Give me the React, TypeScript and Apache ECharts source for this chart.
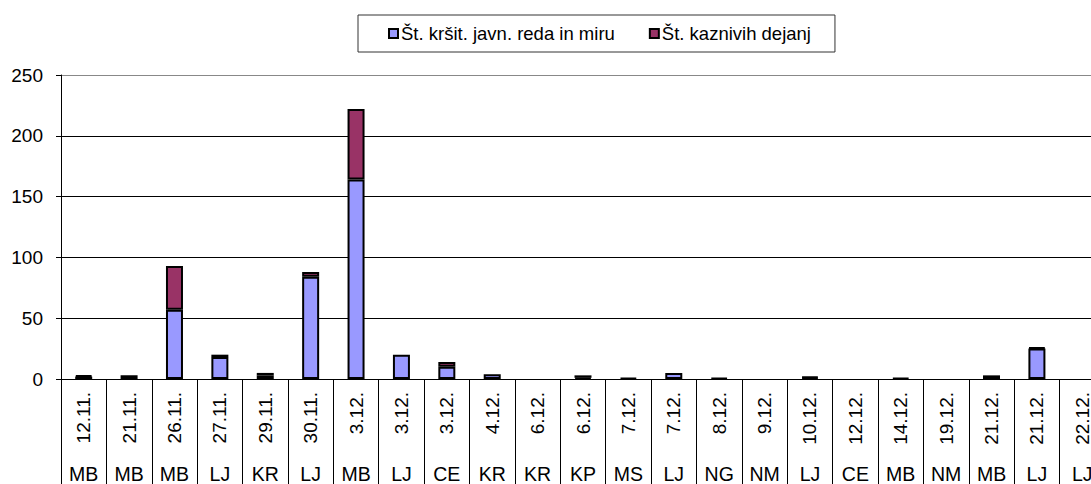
import React, { useEffect, useRef } from "react";
import * as echarts from "echarts";

const dates = ["12.11.", "21.11.", "26.11.", "27.11.", "29.11.", "30.11.", "3.12.", "3.12.", "3.12.", "4.12.", "6.12.", "6.12.", "7.12.", "7.12.", "8.12.", "9.12.", "10.12.", "12.12.", "14.12.", "19.12.", "21.12.", "21.12.", "22.12."];
const cities = ["MB", "MB", "MB", "LJ", "KR", "LJ", "MB", "LJ", "CE", "KR", "KR", "KP", "MS", "LJ", "NG", "NM", "LJ", "CE", "MB", "NM", "MB", "LJ", "LJ"];
const javniRed = [2, 0, 57, 18, 3, 84, 164, 20, 10, 4, 0, 1, 1, 5, 1, 0, 1, 0, 1, 0, 3, 25, 0];
const kaznivaDejanja = [1, 3, 36, 2, 2, 4, 58, 0, 4, 0, 0, 2, 0, 0, 0, 0, 1, 0, 0, 0, 0, 1, 0];
const seriesNames = ["Št. kršit. javn. reda in miru", "Št. kaznivih dejanj"];
const yTicks = { min: 0, max: 250, interval: 50 };

export default function App() {
  const ref = useRef<HTMLDivElement>(null);
  useEffect(() => {
    const chart = echarts.init(ref.current!, null, { renderer: "svg" });
    const font = "Arial, 'Liberation Sans', sans-serif";
    const noZero = (arr: number[]) => arr.map((v) => (v === 0 ? null : v));
    chart.setOption({
      animation: false,
      backgroundColor: "#fff",
      textStyle: { fontFamily: font, color: "#000" },
      legend: {
        left: 358,
        top: 15,
        orient: "horizontal",
        padding: [9, 24, 9, 30],
        itemWidth: 9,
        itemHeight: 9,
        itemGap: 34,
        borderColor: "#333",
        borderWidth: 1,
        icon: "rect",
        textStyle: { fontSize: 18.5, color: "#000", fontFamily: font, padding: [0, 0, 0, -2] },
        data: seriesNames,
      },
      grid: { left: 61, top: 75, width: 1044, bottom: 102, containLabel: false },
      xAxis: [
        {
          type: "category",
          data: dates,
          boundaryGap: true,
          axisLine: { show: true, lineStyle: { color: "#000", width: 1 } },
          axisTick: { show: true, interval: 0, length: 110, lineStyle: { color: "#000", width: 1 } },
          axisLabel: { interval: 0, rotate: 90, fontSize: 19, margin: 13, color: "#000", fontFamily: font },
        },
        {
          type: "category",
          data: cities,
          position: "bottom",
          boundaryGap: true,
          axisLine: { show: false },
          axisTick: { show: false },
          axisLabel: { interval: 0, fontSize: 19.5, margin: 85, color: "#000", fontFamily: font },
        },
      ],
      yAxis: {
        type: "value",
        min: yTicks.min,
        max: yTicks.max,
        interval: yTicks.interval,
        axisLine: { show: true, lineStyle: { color: "#000", width: 1 } },
        axisTick: { show: true, length: 5, lineStyle: { color: "#000" } },
        axisLabel: { fontSize: 19, margin: 18, color: "#000", fontFamily: font },
        splitLine: { show: true, lineStyle: { color: ["#000", "#000", "#000", "#000", "#000", "#888"], width: 1 } },
      },
      series: [
        {
          name: seriesNames[0],
          type: "bar",
          stack: "total",
          xAxisIndex: 0,
          barWidth: 17,
          data: noZero(javniRed),
          itemStyle: { color: "#9999FF", borderColor: "#000", borderWidth: 2 },
        },
        {
          name: seriesNames[1],
          type: "bar",
          stack: "total",
          xAxisIndex: 0,
          barWidth: 17,
          data: noZero(kaznivaDejanja),
          itemStyle: { color: "#993366", borderColor: "#000", borderWidth: 2 },
        },
      ],
    });
    return () => chart.dispose();
  }, []);
  return (
    <div style={{ position: "fixed", left: 0, top: 0, width: 1091, height: 484, overflow: "hidden", background: "#fff" }}>
      <div ref={ref} style={{ width: 1120, height: 484 }} />
    </div>
  );
}
